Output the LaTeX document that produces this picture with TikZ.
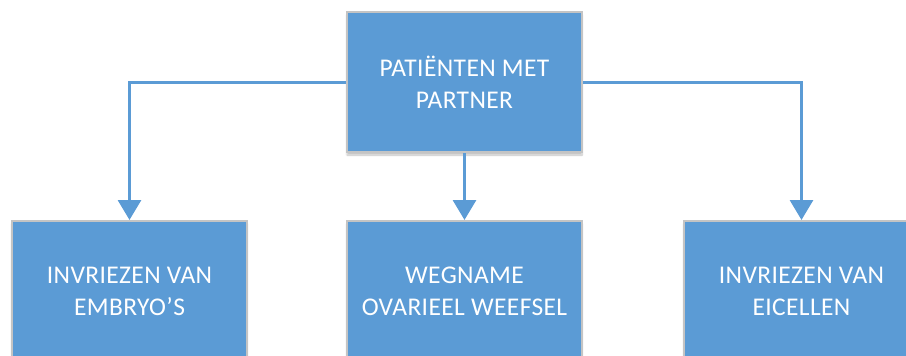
\documentclass[tikz,border=0pt]{standalone}
\usepackage{fontspec}
\setmainfont{Carlito}[LetterSpace=1.5]
\usetikzlibrary{arrows.meta,shadows.blur}
\definecolor{boxblue}{HTML}{5B9BD5}
\definecolor{boxedge}{HTML}{C4C4C4}
\tikzset{
  card/.style={draw=boxedge, line width=2pt, fill=boxblue, minimum width=235pt, minimum height=140pt,
    text=white, align=center, font=\fontsize{25.5}{32}\selectfont, inner sep=0pt,
    blur shadow={shadow xshift=0pt, shadow yshift=-3pt, shadow blur steps=6, shadow opacity=25}},
  link/.style={draw=boxblue, line width=3pt, -{Triangle[width=23pt,length=20pt]}}
}
\begin{document}
\begin{tikzpicture}[x=1pt,y=-1pt]
\useasboundingbox (0,0) rectangle (906,356);
\node[card] (top) at (464.5,82) {PATIËNTEN MET\\PARTNER};
\node[card] (left) at (129.5,291) {INVRIEZEN VAN\\EMBRYO’S};
\node[card] (mid) at (464.5,291) {WEGNAME\\OVARIEEL WEEFSEL};
\node[card] (right) at (801.5,291) {INVRIEZEN VAN\\EICELLEN};
\draw[link] (top.west) -| (left.north);
\draw[link] (top.east) -| (right.north);
\draw[link] (top.south) -- (mid.north);
\end{tikzpicture}
\end{document}
